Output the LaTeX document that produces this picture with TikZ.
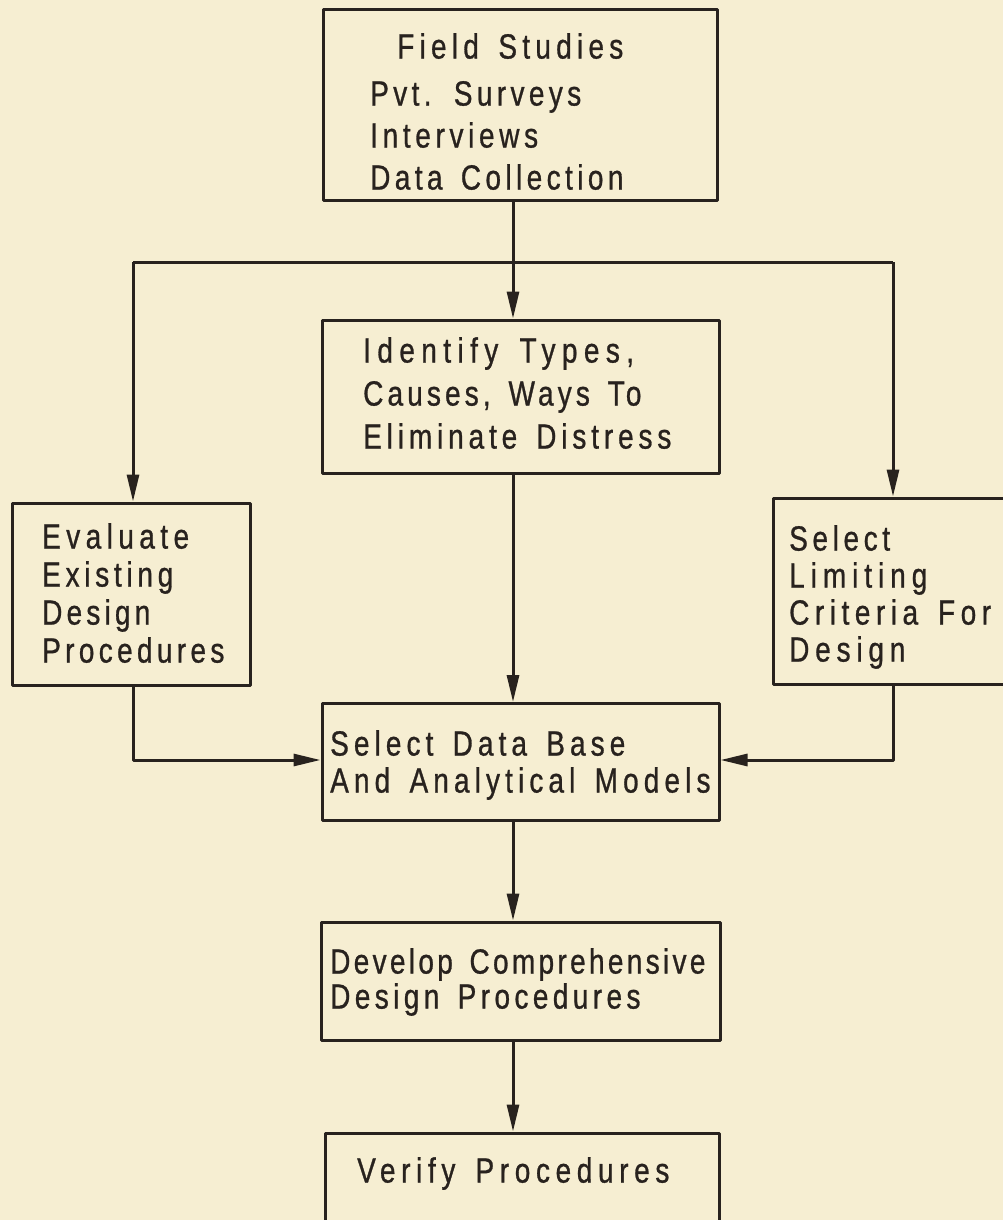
\documentclass[tikz,border=0pt]{standalone}
\usepackage{fontspec}
\setmainfont{Liberation Sans}[FakeStretch=0.8, FakeBold=0.8, WordSpace=1.5]
\usetikzlibrary{arrows.meta,calc}
\definecolor{paper}{RGB}{246,238,210}
\definecolor{ink}{RGB}{40,34,30}
% per-line tracking, as in hand lettering
\newcommand\tracked[1]{\addfontfeatures{LetterSpace=#1}}

\begin{document}
\begin{tikzpicture}[x=1pt,y=-1pt,
  box/.style={draw=ink, line width=3pt, inner sep=0pt, line join=round},
  txt/.style={anchor=north west, inner sep=0pt, align=left, text=ink,
              font=\fontsize{35}{#1}\selectfont},
  wire/.style={draw=ink, line width=3pt, line join=round},
  link/.style={wire, -{Triangle[length=27pt,width=12pt]}}]

  \fill[paper] (0,0) rectangle (1003,1220);
  \useasboundingbox (0,0) rectangle (1003,1220);

  % boxes
  \node[box, minimum width=394pt, minimum height=190pt] (fs) at (520,105) {};
  \node[box, minimum width=397pt, minimum height=153pt] (id) at (520.5,396.5) {};
  \node[box, minimum width=238pt, minimum height=182pt] (ev) at (131,594) {};
  \node[box, minimum width=242pt, minimum height=186pt] (sl) at (894,591) {};
  \node[box, minimum width=397pt, minimum height=117pt] (db) at (520.5,762) {};
  \node[box, minimum width=399pt, minimum height=118pt] (dv) at (520.5,981) {};
  \node[box, minimum width=394pt, minimum height=107pt] (vf) at (522,1186.5) {};

  % lettering
  \node[txt=42] (fs-t) at (370,33) {{\hspace*{27pt}\tracked{15}Field Studies}\\[5pt]
    {\tracked{12.5}Pvt. Surveys}\\ {\tracked{13.3}Interviews}\\ {\tracked{12.6}Data Collection}};
  \node[txt=43] (id-t) at (363,337) {{\tracked{18.3}Identify Types,}\\
    {\tracked{11.8}Causes, Ways To}\\ {\tracked{13.9}Eliminate Distress}};
  \node[txt=38] (ev-t) at (42,523) {{\tracked{15.5}Evaluate}\\ {\tracked{13.5}Existing}\\
    {\tracked{12}Design}\\ {\tracked{12.4}Procedures}};
  \node[txt=37] (sl-t) at (789,525) {{\tracked{13.2}Select}\\ {\tracked{17}Limiting}\\
    {\tracked{15.8}Criteria For}\\ {\tracked{16.6}Design}};
  \node[txt=37] (db-t) at (330,730) {{\tracked{14.5}Select Data Base}\\
    {\tracked{14.6}And Analytical Models}};
  \node[txt=35] (dv-t) at (330,948) {{\tracked{9.5}Develop Comprehensive}\\
    {\tracked{12.6}Design Procedures}};
  \node[txt=40] (vf-t) at (357,1157) {{\tracked{16.1}Verify Procedures}};

  % routing points
  \coordinate (spine) at (513,262);
  \coordinate (brL) at (133,262);
  \coordinate (brR) at (893,262);
  \coordinate (jy) at (0,760);

  % connectors
  \draw[link] (fs.south -| spine) -- (id.north -| spine);
  \draw[wire] (brL) -- (brR);
  \draw[link] (brL) -- (ev.north -| brL);
  \draw[link] (brR) -- (sl.north -| brR);
  \draw[link] (id.south -| spine) -- (db.north -| spine);
  \draw[link] (ev.south -| brL) |- (db.west |- jy);
  \draw[link] (sl.south -| brR) |- (db.east |- jy);
  \draw[link] (db.south -| spine) -- (dv.north -| spine);
  \draw[link] (dv.south -| spine) -- (vf.north -| spine);
\end{tikzpicture}
\end{document}
